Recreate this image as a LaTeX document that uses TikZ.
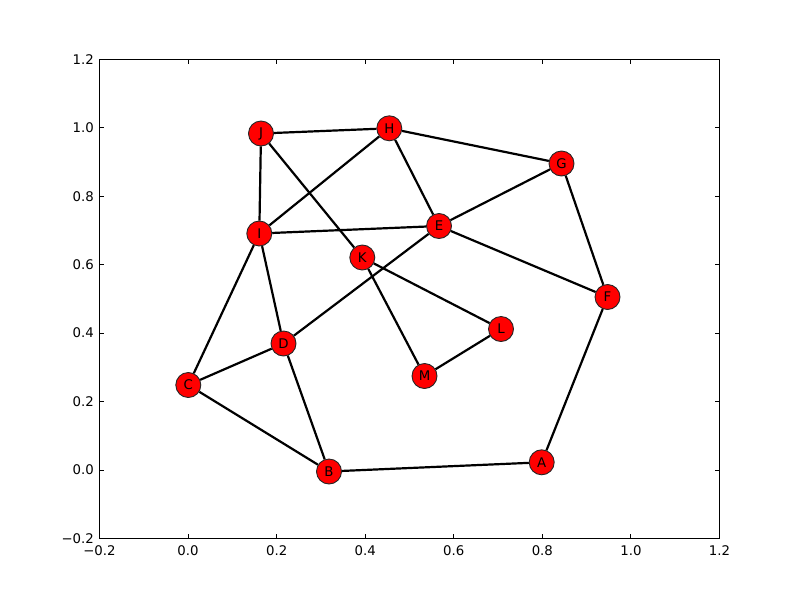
\documentclass[tikz,border=0pt]{standalone}
\usepackage{fontspec}
\setmainfont{DejaVu Sans}
\begin{document}
\begin{tikzpicture}[x=1pt,y=-1pt,
  vnode/.style={circle,draw=black!85,line width=0.9pt,fill=red,minimum size=25pt,inner sep=0pt,font=\fontsize{13.3}{16}\selectfont},
  edge/.style={line width=2.2pt,black},
  axisline/.style={line width=1.1pt,black},
  ticklab/.style={font=\fontsize{13.3}{16}\selectfont,inner sep=0pt}]
\useasboundingbox (0,0) rectangle (800,600);
% axes frame
\draw[axisline] (99.5,59.3) rectangle (719.5,538.5);
% ticks x
\foreach \i/\lab in {0/{−0.2},1/{0.0},2/{0.2},3/{0.4},4/{0.6},5/{0.8},6/{1.0},7/{1.2}}{
  \pgfmathsetmacro{\xx}{99.5+88.57*\i}
  \draw[line width=0.9pt] (\xx,538.5) -- ++(0,-4.5);
  \draw[line width=0.9pt] (\xx,59.3) -- ++(0,4.5);
  \node[ticklab,anchor=base] (xt\i) at (\xx,555) {\lab};
}
% ticks y
\foreach \i/\lab in {0/{−0.2},1/{0.0},2/{0.2},3/{0.4},4/{0.6},5/{0.8},6/{1.0},7/{1.2}}{
  \pgfmathsetmacro{\yy}{538.5-68.46*\i}
  \draw[line width=0.9pt] (99.5,\yy) -- ++(4.5,0);
  \draw[line width=0.9pt] (719.5,\yy) -- ++(-4.5,0);
  \node[ticklab,anchor=east] (yt\i) at (94,\yy) {\lab};
}
% nodes
\node[vnode] (A) at (541.7,462.3) {A};
\node[vnode] (B) at (329,471.5) {B};
\node[vnode] (C) at (188.3,385) {C};
\node[vnode] (D) at (283.5,343.5) {D};
\node[vnode] (E) at (439,226) {E};
\node[vnode] (F) at (607.5,297) {F};
\node[vnode] (G) at (561.5,163.5) {G};
\node[vnode] (H) at (389.3,128.3) {H};
\node[vnode] (I) at (259.3,233.5) {I};
\node[vnode] (J) at (261,133.5) {J};
\node[vnode] (K) at (362.3,257.5) {K};
\node[vnode] (L) at (501,329) {L};
\node[vnode] (M) at (424.5,376) {M};
% edges
\foreach \a/\b in {J/H,H/G,H/I,H/E,J/I,J/K,I/E,E/G,E/F,E/D,G/F,F/A,A/B,B/C,B/D,C/D,C/I,I/D,K/L,K/M,L/M}{
  \draw[edge] (\a) -- (\b);
}
\end{tikzpicture}
\end{document}
